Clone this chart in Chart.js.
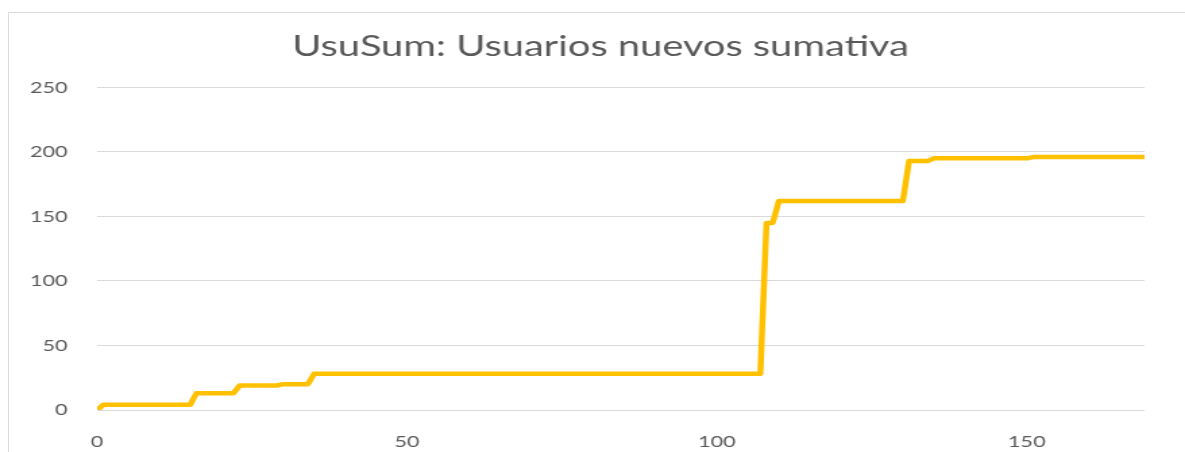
<!DOCTYPE html>
<html>
<head>
<meta charset="utf-8">
<script src="https://cdn.jsdelivr.net/npm/chart.js@4.4.0/dist/chart.umd.min.js"></script>
<style>
  html, body { margin: 0; padding: 0; background: #fff; overflow: hidden; }
  body { width: 1185px; height: 452px; position: relative; }
  #marco { position: absolute; left: 8px; top: 12px; width: 1300px; height: 600px; border: 1px solid #d9d9d9; }
  #lienzo { position: absolute; left: 0; top: 0; width: 878px; height: 452px; transform: scaleX(1.3497); transform-origin: 0 0; }
</style>
</head>
<body>
<div id="marco"></div>
<div id="lienzo"><canvas id="grafico" width="878" height="452"></canvas></div>
<script>
// dias donde cambia la serie y el total acumulado en cada uno
const dias     = [0, 1, 15, 16, 22, 23, 29, 30, 34, 35, 107, 108, 109, 110, 130, 131, 134, 135, 150, 151, 169];
const usuarios = [0, 4,  4, 13, 13, 19, 19, 20, 20, 28,  28, 145, 145, 162, 162, 193, 193, 195, 195, 196, 196];
const ticksX = [0, 50, 100, 150];
const ticksY = [0, 50, 100, 150, 200, 250];

const puntos = dias.map(function(d, i) { return { x: d, y: usuarios[i] }; });

const gris = '#595959';

// centra el titulo sobre todo el marco y no solo sobre la zona del grafico
const centrarTitulo = {
  id: 'centrarTitulo',
  afterLayout: function(chart) {
    if (chart.titleBlock) {
      chart.titleBlock.left = 0;
      chart.titleBlock.right = 890;
    }
  }
};

new Chart(document.getElementById('grafico'), {
  type: 'line',
  data: {
    datasets: [{
      data: puntos,
      borderColor: '#FFC000',
      borderWidth: 4.5,
      borderJoinStyle: 'round',
      borderCapStyle: 'round',
      pointRadius: 0,
      tension: 0
    }]
  },
  options: {
    responsive: false,
    animation: false,
    layout: { padding: { left: 0, right: 30, top: 0, bottom: 0 } },
    plugins: {
      legend: { display: false },
      tooltip: { enabled: false },
      title: {
        display: true,
        text: 'UsuSum: Usuarios nuevos sumativa',
        color: gris,
        font: { family: 'Lato', size: 29.5, weight: 'normal' },
        padding: { top: 29, bottom: 23 }
      }
    },
    scales: {
      x: {
        type: 'linear',
        min: 0,
        max: 169,
        afterBuildTicks: function(axis) {
          axis.ticks = ticksX.map(function(v) { return { value: v }; });
        },
        afterFit: function(axis) { axis.height = 42; },
        grid: { display: false },
        border: { display: false },
        ticks: { color: gris, padding: 14, maxRotation: 0, font: { family: 'Lato', size: 16 } }
      },
      y: {
        min: 0,
        max: 250,
        afterBuildTicks: function(axis) {
          axis.ticks = ticksY.map(function(v) { return { value: v }; });
        },
        afterFit: function(axis) { axis.width = 72; },
        grid: { color: '#d9d9d9', lineWidth: 1, drawTicks: false },
        border: { display: false },
        ticks: { color: gris, padding: 22, font: { family: 'Lato', size: 16 } }
      }
    }
  },
  plugins: [centrarTitulo]
});
</script>
</body>
</html>
